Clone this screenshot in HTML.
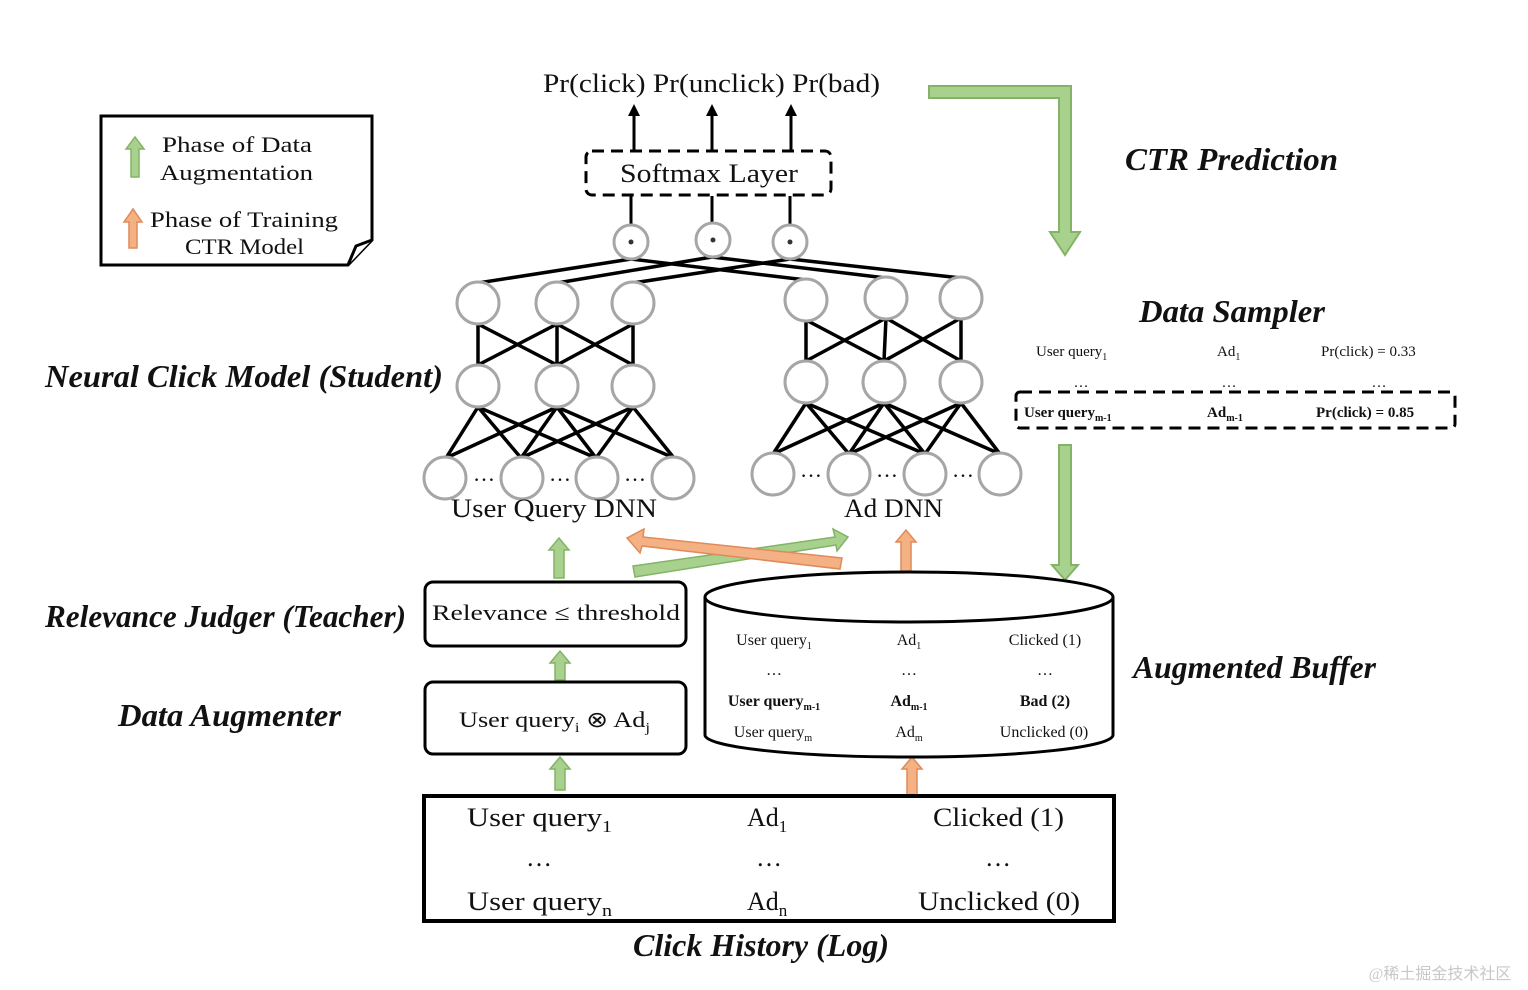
<!DOCTYPE html>
<html><head><meta charset="utf-8"><style>
html,body{margin:0;padding:0;background:#fff;}
svg{display:block;}
text{font-family:"Liberation Serif",serif;fill:#111;}
.s{font-family:"Liberation Serif",serif;font-style:italic;font-weight:bold;}
</style></head><body>
<svg width="1528" height="990" viewBox="0 0 1528 990" xmlns="http://www.w3.org/2000/svg">
<defs>
<marker id="ah" viewBox="0 0 10 10" refX="5" refY="5" markerWidth="4" markerHeight="5" orient="auto"><path d="M0,0 L10,5 L0,10 z" fill="#000"/></marker>
</defs>
<!-- Legend -->
<path d="M101,116 H372 V240 L348,265 H101 Z" fill="#fff" stroke="#000" stroke-width="3"/>
<path d="M348,265 L356,246 L372,240" fill="#fff" stroke="#000" stroke-width="3"/>
<polygon points="131,177 131,149 126,149 135,137 144,149 139,149 139,177" fill="#a9d18e" stroke="#82b366" stroke-width="1.5"/>
<polygon points="129,248 129,222 124,222 133,209 142,222 137,222 137,248" fill="#f4b183" stroke="#e08a5a" stroke-width="1.5"/>
<text x="162" y="152" font-size="22" textLength="150" lengthAdjust="spacingAndGlyphs">Phase of Data</text>
<text x="160" y="180" font-size="22" textLength="153" lengthAdjust="spacingAndGlyphs">Augmentation</text>
<text x="150" y="227" font-size="22" textLength="188" lengthAdjust="spacingAndGlyphs">Phase of Training</text>
<text x="185" y="254" font-size="22" textLength="119" lengthAdjust="spacingAndGlyphs">CTR Model</text>

<!-- Top outputs -->
<text x="543" y="92" font-size="26" textLength="337" lengthAdjust="spacingAndGlyphs">Pr(click) Pr(unclick) Pr(bad)</text>
<g stroke="#000" stroke-width="3">
<line x1="634" y1="150" x2="634" y2="110" marker-end="url(#ah)"/>
<line x1="712" y1="150" x2="712" y2="110" marker-end="url(#ah)"/>
<line x1="791" y1="150" x2="791" y2="110" marker-end="url(#ah)"/>
<line x1="631" y1="196" x2="631" y2="225"/>
<line x1="712" y1="196" x2="712" y2="223"/>
<line x1="790" y1="196" x2="790" y2="225"/>
</g>
<rect x="586" y="151" width="245" height="44" rx="6" fill="#fff" stroke="#000" stroke-width="3" stroke-dasharray="12,7"/>
<text x="620" y="182" font-size="26" textLength="178" lengthAdjust="spacingAndGlyphs">Softmax Layer</text>

<!-- green L arrow -->
<polygon points="929,86 1071,86 1071,232 1080,232 1065,255 1050,232 1059,232 1059,98 929,98" fill="#a9d18e" stroke="#82b366" stroke-width="2"/>
<text class="s" x="1125" y="170" font-size="32" textLength="213" lengthAdjust="spacingAndGlyphs">CTR Prediction</text>

<!-- network lines -->
<g stroke="#000" stroke-width="3.5" fill="none">
<line x1="631" y1="259" x2="478" y2="283"/>
<line x1="712" y1="257" x2="557" y2="283"/>
<line x1="790" y1="259" x2="633" y2="283"/>
<line x1="631" y1="259" x2="806" y2="280"/>
<line x1="712" y1="257" x2="886" y2="278"/>
<line x1="790" y1="259" x2="961" y2="278"/>
<line x1="478" y1="324" x2="478" y2="365"/><line x1="557" y1="324" x2="557" y2="365"/><line x1="633" y1="324" x2="633" y2="365"/>
<line x1="478" y1="324" x2="557" y2="365"/><line x1="557" y1="324" x2="478" y2="365"/>
<line x1="557" y1="324" x2="633" y2="365"/><line x1="633" y1="324" x2="557" y2="365"/>
<line x1="806" y1="320" x2="806" y2="361"/><line x1="886" y1="318" x2="884" y2="361"/><line x1="961" y1="318" x2="961" y2="361"/>
<line x1="806" y1="320" x2="884" y2="361"/><line x1="886" y1="318" x2="806" y2="361"/>
<line x1="886" y1="318" x2="961" y2="361"/><line x1="961" y1="318" x2="884" y2="361"/>
<line x1="478" y1="407" x2="446" y2="458"/><line x1="478" y1="407" x2="521" y2="458"/><line x1="478" y1="407" x2="596" y2="458"/>
<line x1="557" y1="407" x2="446" y2="458"/><line x1="557" y1="407" x2="521" y2="458"/><line x1="557" y1="407" x2="596" y2="458"/><line x1="557" y1="407" x2="674" y2="458"/>
<line x1="633" y1="407" x2="521" y2="458"/><line x1="633" y1="407" x2="596" y2="458"/><line x1="633" y1="407" x2="674" y2="458"/>
<line x1="806" y1="403" x2="773" y2="454"/><line x1="806" y1="403" x2="849" y2="454"/><line x1="806" y1="403" x2="925" y2="454"/>
<line x1="884" y1="403" x2="773" y2="454"/><line x1="884" y1="403" x2="849" y2="454"/><line x1="884" y1="403" x2="925" y2="454"/><line x1="884" y1="403" x2="1000" y2="454"/>
<line x1="961" y1="403" x2="849" y2="454"/><line x1="961" y1="403" x2="925" y2="454"/><line x1="961" y1="403" x2="1000" y2="454"/>
</g>
<g fill="#fff" stroke="#a6a6a6" stroke-width="3">
<circle cx="631" cy="242" r="17"/><circle cx="713" cy="240" r="17"/><circle cx="790" cy="242" r="17"/>
<circle cx="478" cy="303" r="21"/><circle cx="557" cy="303" r="21"/><circle cx="633" cy="303" r="21"/>
<circle cx="478" cy="386" r="21"/><circle cx="557" cy="386" r="21"/><circle cx="633" cy="386" r="21"/>
<circle cx="445" cy="478" r="21"/><circle cx="522" cy="478" r="21"/><circle cx="597" cy="478" r="21"/><circle cx="673" cy="478" r="21"/>
<circle cx="806" cy="300" r="21"/><circle cx="886" cy="298" r="21"/><circle cx="961" cy="298" r="21"/>
<circle cx="806" cy="382" r="21"/><circle cx="884" cy="382" r="21"/><circle cx="961" cy="382" r="21"/>
<circle cx="773" cy="474" r="21"/><circle cx="849" cy="474" r="21"/><circle cx="925" cy="474" r="21"/><circle cx="1000" cy="474" r="21"/>
</g>
<g fill="#333"><circle cx="631" cy="242" r="2.5"/><circle cx="713" cy="240" r="2.5"/><circle cx="790" cy="242" r="2.5"/></g>
<g font-size="22">
<text x="484" y="481" text-anchor="middle">…</text><text x="560" y="481" text-anchor="middle">…</text><text x="635" y="481" text-anchor="middle">…</text>
<text x="811" y="477" text-anchor="middle">…</text><text x="887" y="477" text-anchor="middle">…</text><text x="963" y="477" text-anchor="middle">…</text>
</g>
<text x="451" y="517" font-size="26" textLength="206" lengthAdjust="spacingAndGlyphs">User Query DNN</text>
<text x="844" y="517" font-size="26" textLength="99" lengthAdjust="spacingAndGlyphs">Ad DNN</text>
<text class="s" x="45" y="387" font-size="32" textLength="398" lengthAdjust="spacingAndGlyphs">Neural Click Model  (Student)</text>

<!-- Data sampler -->
<text class="s" x="1139" y="322" font-size="32" textLength="186" lengthAdjust="spacingAndGlyphs">Data Sampler</text>
<g font-size="15">
<text x="1036" y="356">User query<tspan font-size="10" dy="4">1</tspan></text>
<text x="1217" y="356">Ad<tspan font-size="10" dy="4">1</tspan></text>
<text x="1321" y="356">Pr(click)  = 0.33</text>
<text x="1081" y="387" text-anchor="middle">…</text><text x="1229" y="387" text-anchor="middle">…</text><text x="1379" y="387" text-anchor="middle">…</text>
<g font-weight="bold">
<text x="1024" y="417">User query<tspan font-size="10" dy="4">m-1</tspan></text>
<text x="1207" y="417">Ad<tspan font-size="10" dy="4">m-1</tspan></text>
<text x="1316" y="417">Pr(click) = 0.85</text>
</g>
</g>
<rect x="1016" y="392" width="439" height="36" rx="4" fill="none" stroke="#000" stroke-width="3" stroke-dasharray="12,7"/>
<polygon points="1059,445 1071,445 1071,565 1078,565 1065,580 1052,565 1059,565" fill="#a9d18e" stroke="#82b366" stroke-width="2"/>

<!-- diagonal arrows -->
<polygon points="633,566 835,537 833,529 848,537 837,551 836,545 635,577" fill="#a9d18e" stroke="#82b366" stroke-width="1.5"/>
<polygon points="842,558 643,537 644,529 627,538 640,553 642,546 840,569" fill="#f4b183" stroke="#e08a5a" stroke-width="1.5"/>

<!-- small arrows -->
<polygon points="554,578 554,550 549,550 559,538 569,550 564,550 564,578" fill="#a9d18e" stroke="#82b366" stroke-width="1.5"/>
<polygon points="555,680 555,663 550,663 560,651 570,663 565,663 565,680" fill="#a9d18e" stroke="#82b366" stroke-width="1.5"/>
<polygon points="555,790 555,769 550,769 560,757 570,769 565,769 565,790" fill="#a9d18e" stroke="#82b366" stroke-width="1.5"/>
<polygon points="901,572 901,542 896,542 906,530 916,542 911,542 911,572" fill="#f4b183" stroke="#e08a5a" stroke-width="1.5"/>
<polygon points="907,796 907,769 902,769 912,757 922,769 917,769 917,796" fill="#f4b183" stroke="#e08a5a" stroke-width="1.5"/>

<!-- Teacher / Augmenter -->
<text class="s" x="45" y="627" font-size="32" textLength="361" lengthAdjust="spacingAndGlyphs">Relevance Judger (Teacher)</text>
<text class="s" x="118" y="726" font-size="32" textLength="223" lengthAdjust="spacingAndGlyphs">Data Augmenter</text>
<rect x="425" y="582" width="261" height="64" rx="8" fill="#fff" stroke="#000" stroke-width="3"/>
<text x="432" y="620" font-size="22" textLength="248" lengthAdjust="spacingAndGlyphs">Relevance  ≤  threshold</text>
<rect x="425" y="682" width="261" height="72" rx="8" fill="#fff" stroke="#000" stroke-width="3"/>
<text x="459" y="727" font-size="22" textLength="191" lengthAdjust="spacingAndGlyphs">User query<tspan font-size="14" dy="5">i</tspan><tspan dy="-5"> ⊗ Ad</tspan><tspan font-size="14" dy="5">j</tspan></text>

<!-- Cylinder -->
<path d="M705,597 V735 A204,22 0 0 0 1113,735 V597" fill="#fff" stroke="#000" stroke-width="3"/>
<ellipse cx="909" cy="597" rx="204" ry="25" fill="#fff" stroke="#000" stroke-width="3"/>
<g font-size="16">
<text x="774" y="645" text-anchor="middle">User query<tspan font-size="10" dy="4">1</tspan></text>
<text x="909" y="645" text-anchor="middle">Ad<tspan font-size="10" dy="4">1</tspan></text>
<text x="1045" y="645" text-anchor="middle">Clicked  (1)</text>
<text x="774" y="675" text-anchor="middle">…</text><text x="909" y="675" text-anchor="middle">…</text><text x="1045" y="675" text-anchor="middle">…</text>
<g font-weight="bold">
<text x="774" y="706" text-anchor="middle">User query<tspan font-size="10" dy="4">m-1</tspan></text>
<text x="909" y="706" text-anchor="middle">Ad<tspan font-size="10" dy="4">m-1</tspan></text>
<text x="1045" y="706" text-anchor="middle">Bad (2)</text>
</g>
<text x="773" y="737" text-anchor="middle">User query<tspan font-size="10" dy="4">m</tspan></text>
<text x="909" y="737" text-anchor="middle">Ad<tspan font-size="10" dy="4">m</tspan></text>
<text x="1044" y="737" text-anchor="middle">Unclicked (0)</text>
</g>
<text class="s" x="1133" y="678" font-size="32" textLength="243" lengthAdjust="spacingAndGlyphs">Augmented Buffer</text>

<!-- Click history -->
<rect x="424" y="796" width="690" height="125" fill="#fff" stroke="#000" stroke-width="4"/>
<g font-size="26">
<text x="467" y="826" textLength="145" lengthAdjust="spacingAndGlyphs">User query<tspan font-size="17" dy="6">1</tspan></text>
<text x="747" y="826">Ad<tspan font-size="17" dy="6">1</tspan></text>
<text x="933" y="826" textLength="131" lengthAdjust="spacingAndGlyphs">Clicked (1)</text>
<text x="539" y="866" text-anchor="middle">…</text><text x="769" y="866" text-anchor="middle">…</text><text x="998" y="866" text-anchor="middle">…</text>
<text x="467" y="910" textLength="145" lengthAdjust="spacingAndGlyphs">User query<tspan font-size="17" dy="6">n</tspan></text>
<text x="747" y="910">Ad<tspan font-size="17" dy="6">n</tspan></text>
<text x="918" y="910" textLength="162" lengthAdjust="spacingAndGlyphs">Unclicked (0)</text>
</g>
<text class="s" x="633" y="956" font-size="32" textLength="256" lengthAdjust="spacingAndGlyphs">Click History (Log)</text>
<text x="1440" y="979" font-size="16" style="fill:#c8c8c8" text-anchor="middle">@稀土掘金技术社区</text>
</svg>
</body></html>
